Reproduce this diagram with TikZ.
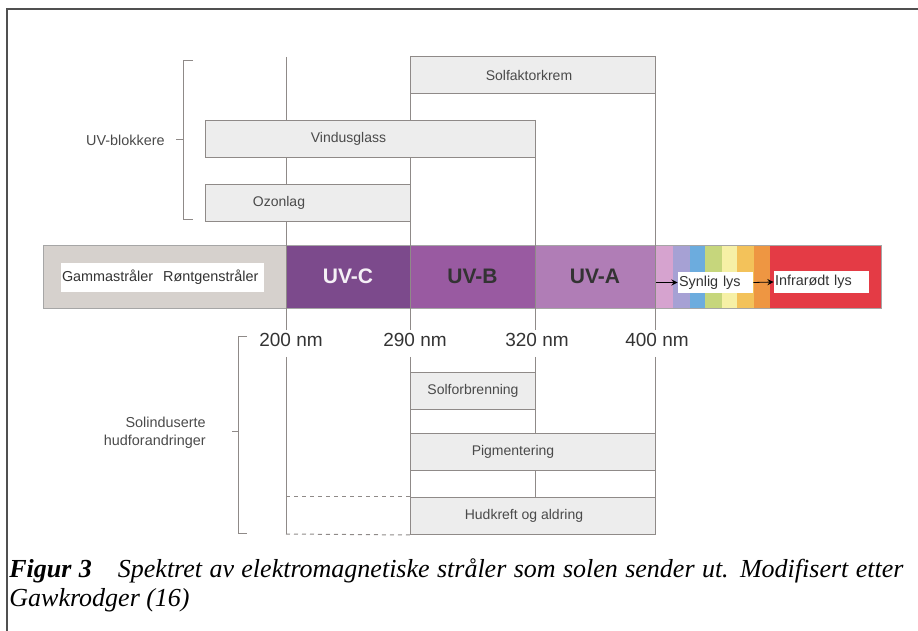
\documentclass[tikz,border=0pt]{standalone}
\usepackage{fontspec}
\setmainfont{Liberation Sans}
\newfontfamily\capfont{Liberation Serif}
\usetikzlibrary{arrows}
\usetikzlibrary{positioning}
\usetikzlibrary{calc}
\usetikzlibrary{chains}

\definecolor{framegray}{HTML}{505050}
\definecolor{linegray}{HTML}{8F8A88}
\definecolor{boxgray}{HTML}{EDEDED}
\definecolor{textgray}{HTML}{4A4A4A}
\definecolor{gammagray}{HTML}{D6D1CD}
\definecolor{uvcpurple}{HTML}{7C4A8C}
\definecolor{uvbpurple}{HTML}{995AA1}
\definecolor{uvapurple}{HTML}{B07DB6}
\definecolor{vispink}{HTML}{D6A3CF}
\definecolor{vislilac}{HTML}{A6A1D4}
\definecolor{visblue}{HTML}{6CACDE}
\definecolor{visgreen}{HTML}{C6D67C}
\definecolor{visyellow}{HTML}{F6F0A6}
\definecolor{visamber}{HTML}{F3C25A}
\definecolor{visorange}{HTML}{EE9642}
\definecolor{irred}{HTML}{E43B45}

% grey box spanning a wavelength range, text shifted by #4
\newcommand{\rangebox}[5]{\node[band, minimum width=#3, label={[xshift=#4]center:#5}] (#1) at #2 {}}

\begin{document}
\begin{tikzpicture}[
        x=0.5pt, y=-0.5pt,
        every label/.style={font=\fontsize{7}{8}\selectfont, text=textgray, inner sep=0pt},
        band/.style={anchor=north west, draw=linegray, fill=boxgray, line width=0.5pt,
                     minimum height=18.5pt, inner sep=0pt},
        seg/.style={anchor=north west, minimum height=31.5pt, inner sep=0pt, outer sep=0pt},
        spectag/.style={fill=white, inner ysep=0pt, inner xsep=0.5pt, align=left,
                        font=\fontsize{7.2}{8}\selectfont, text=black!80},
        uvtext/.style={font=\bfseries\fontsize{10.5}{12}\selectfont},
        nmlabel/.style={font=\fontsize{9.5}{11}\selectfont, text=black!80},
        side/.style={font=\fontsize{7.2}{9}\selectfont, text=textgray, inner sep=0pt},
        guide/.style={draw=linegray, line width=0.5pt},
        outerframe/.style={draw=framegray, line width=1pt},
        figcaption/.style={font=\capfont\itshape\fontsize{13}{14.5}\selectfont,
                           align=justify, inner sep=0pt, anchor=north west}
      ]
  \useasboundingbox (0,0) rectangle (918,631);
  \draw[outerframe] (7,631) -- (7,9) -- (918,9);

  % spectrum bar
  \node[seg, fill=gammagray, minimum width=121.5pt] (gamma) at (43,245) {};
  \begin{scope}[start chain=spec going right, node distance=0pt]
    \chainin (gamma);
    \node[seg, fill=uvcpurple, minimum width=62pt, on chain] (uvc) {};
    \node[seg, fill=uvbpurple, minimum width=62.5pt, on chain] (uvb) {};
    \node[seg, fill=uvapurple, minimum width=60pt, on chain] (uva) {};
    \foreach \col/\w in {vispink/9, vislilac/8.5, visblue/7.5, visgreen/8.5,
                         visyellow/7.5, visamber/8.5, visorange/8}
      \node[seg, fill=\col, minimum width=\w pt, on chain] {};
    \node[seg, fill=irred, minimum width=55.5pt, on chain] (ir) {};
  \end{scope}
  \draw[draw=black!35, line width=0.4pt] (gamma.north west) rectangle (ir.south east);

  \node[uvtext, text=white!92!uvcpurple] at (uvc) {UV-C};
  \node[uvtext, text=black!80] at (uvb) {UV-B};
  \node[uvtext, text=black!80] at (uva) {UV-A};

  \node[spectag, text width=100.5pt, minimum height=14.5pt] (rays) at (162.5,277.5)
    {Gammastråler\hspace{5pt}Røntgenstråler};
  \node[spectag, text width=36.5pt, minimum height=10.5pt] (synlig) at (715.5,282.5) {Synlig lys};
  \node[spectag, text width=46.5pt, minimum height=11pt] (infra) at (821.5,282) {Infrarødt lys};
  \draw[->, >=stealth, line width=0.4pt] (uva.east |- synlig.west) -- (synlig.west);
  \draw[->, >=stealth, line width=0.4pt] (synlig.east) -- (infra.west);

  % wavelength lines
  \draw[guide] (286,57) -- (286,330)  (410,56) -- (410,330)
               (535,120) -- (535,330) (655,56) -- (655,330);
  \draw[guide] (286,357) -- (286,534) (410,357) -- (410,497)
               (535,357) -- (535,497) (655,357) -- (655,497);
  \node[nmlabel] (nm200) at (291,340) {200 nm};
  \node[nmlabel] (nm290) at (415,340) {290 nm};
  \node[nmlabel] (nm320) at (537,340) {320 nm};
  \node[nmlabel] (nm400) at (657,340) {400 nm};

  % UV-blokkere
  \rangebox{solfaktor}{(410,56)}{122.5pt}{-2pt}{Solfaktorkrem};
  \rangebox{vindu}{(205,120)}{165pt}{-11pt}{Vindusglass};
  \rangebox{ozon}{(205,184)}{102.5pt}{-14.5pt}{Ozonlag};
  \draw[guide] (193,61) -- (183,61) -- (183,220) -- (193,220);
  \node[side, anchor=east] (blokkere) at (165,140) {UV-blokkere};
  \draw[guide] (176,140) -- (183,140);

  % hudforandringer
  \rangebox{solforb}{(410,372)}{62.5pt}{0pt}{Solforbrenning};
  \rangebox{pigment}{(410,433)}{122.5pt}{-10pt}{Pigmentering};
  \rangebox{hudkreft}{(410,497)}{122.5pt}{-4.5pt}{Hudkreft og aldring};
  \draw[guide, dash pattern=on 2pt off 2pt] (286,497) -- (hudkreft.north west);
  \draw[guide, dash pattern=on 2pt off 2pt] (286,534) -- (hudkreft.south west);
  \draw[guide] (247,337) -- (238,337) -- (238,534) -- (247,534);
  \node[side, anchor=east, align=right] (hud) at (206,433) {Solinduserte\\hudforandringer};
  \draw[guide] (232,432) -- (238,432);

  \node[figcaption, text width=447pt] (cap) at (9,558)
    {\textbf{Figur 3}\quad Spektret av elektromagnetiske stråler som solen sender ut.
     Modifisert etter\linebreak Gawkrodger (16)};
\end{tikzpicture}
\end{document}
